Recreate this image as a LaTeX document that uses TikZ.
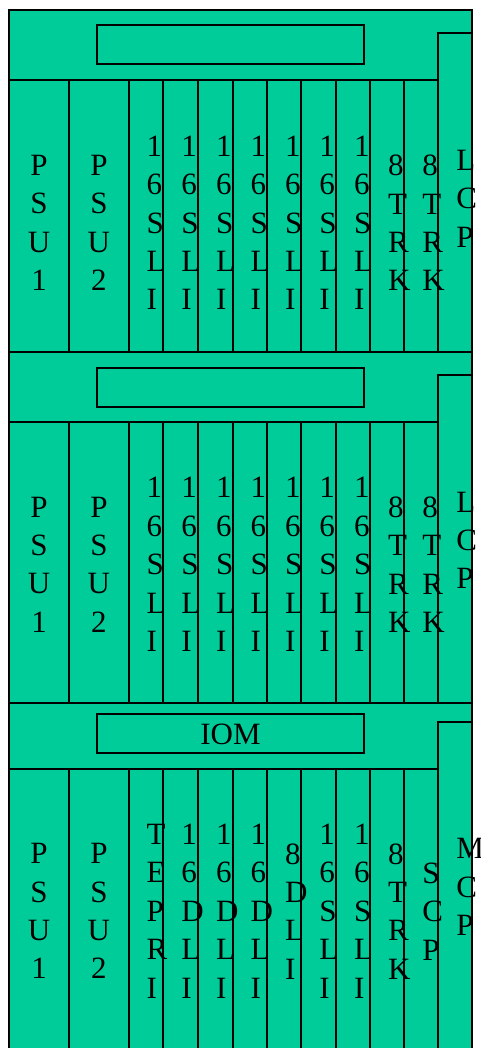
\documentclass[tikz,border=0pt]{standalone}
\usepackage{fontspec}
\setmainfont{Liberation Serif}
\definecolor{rackgreen}{HTML}{00CC99}
\begin{document}
\begin{tikzpicture}[x=1pt, y=-1pt, line width=2pt,
  every node/.style={font=\fontsize{31}{38.4}\selectfont, inner sep=0pt},
  card/.style={anchor=north west, align=left},
  widecard/.style={anchor=north, align=center}]
  \useasboundingbox (0,0) rectangle (481,1048);
  \clip (0,0) rectangle (481,1048);

  % Rack frame
  \filldraw[fill=rackgreen] (9,10) rectangle (472.3,1070);

  % Shelves: band, header plate, right-hand controller slot, card dividers
  \foreach \ya/\yb/\yc/\yr/\ha/\hb in {10/80/351.7/33/25/64.3,
      351.7/422/703.3/375.3/367.7/406.7, 703.3/769/1070/722.3/714.3/752.7} {
    \draw (9,\yc) -- (472.3,\yc);
    \draw (9,\yb) -- (438.3,\yb);
    \draw (97.3,\ha) rectangle (364,\hb);
    \draw (438.3,\yr) rectangle (472.3,\yc);
    \foreach \x in {69,128.7,163.3,198,232.7,267,301.3,336,370,404.3}
      \draw (\x,\yb) -- (\x,\yc);
  }

  % Card labels, upper two shelves
  \foreach \s/\dy in {1/0, 2/341.7} {
    \node[widecard] (psuA\s) at (39,154.1+\dy) {P\\S\\U\\1};
    \node[widecard] (psuB\s) at (98.9,154.1+\dy) {P\\S\\U\\2};
    \foreach \x [count=\i] in {128.7,163.3,198,232.7,267,301.3,336}
      \node[card] (sli\i-\s) at (\x+17,134.8+\dy) {1\\6\\S\\L\\I};
    \node[card] (trkA\s) at (387,154.1+\dy) {8\\T\\R\\K};
    \node[card] (trkB\s) at (421.3,154.1+\dy) {8\\T\\R\\K};
    \node[card] (lcp\s) at (455.3,149.1+\dy) {L\\C\\P};
  }

  % Bottom shelf
  \node[anchor=base] (iom) at (230.5,744.3) {IOM};
  \node[widecard] (psuA3) at (39,842.4) {P\\S\\U\\1};
  \node[widecard] (psuB3) at (98.9,842.4) {P\\S\\U\\2};
  \node[card] (tepri) at (145.7,823.1) {T\\E\\P\\R\\I};
  \node[card] (dliA) at (180.3,823.1) {1\\6\\D\\L\\I};
  \node[card] (dliB) at (215,823.1) {1\\6\\D\\L\\I};
  \node[card] (dliC) at (249.7,823.1) {1\\6\\D\\L\\I};
  \node[card] (dliD) at (284,842.4) {8\\D\\L\\I};
  \node[card] (sliA3) at (318.3,823.1) {1\\6\\S\\L\\I};
  \node[card] (sliB3) at (353,823.1) {1\\6\\S\\L\\I};
  \node[card] (trk3) at (387,842.4) {8\\T\\R\\K};
  \node[card] (scp) at (421.3,861.8) {S\\C\\P};
  \node[card] (mcp) at (455.3,837.4) {M\\C\\P};
\end{tikzpicture}
\end{document}
